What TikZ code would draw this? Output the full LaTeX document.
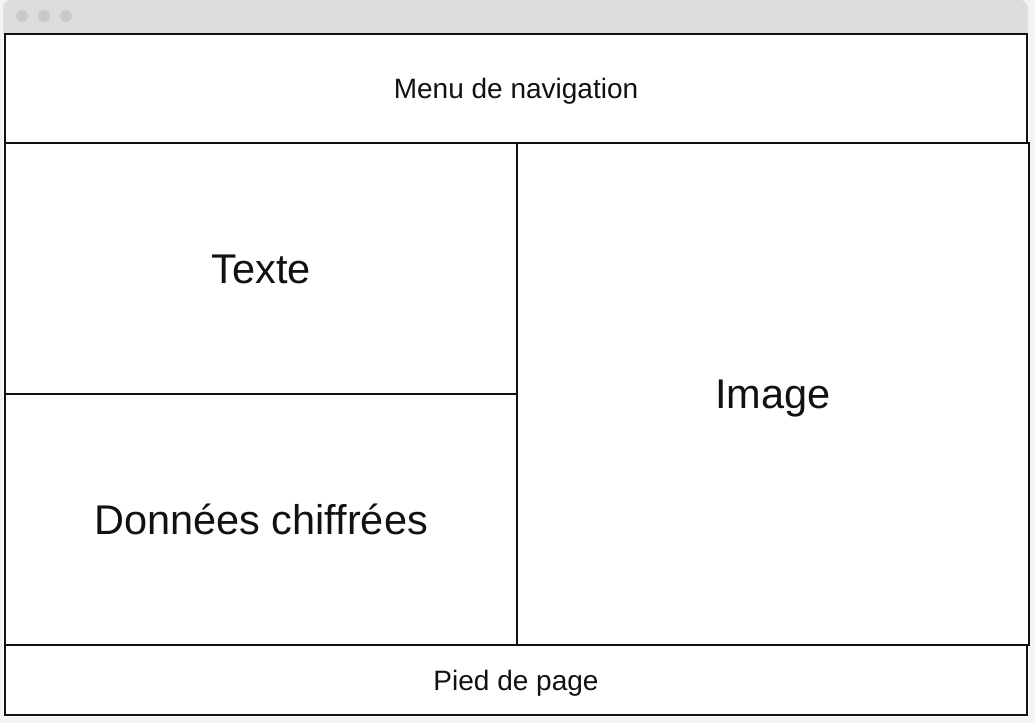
\documentclass[tikz,border=0pt]{standalone}
\usepackage{fontspec}
\setmainfont{Liberation Sans}
\definecolor{bgc}{HTML}{F3F3F3}
\definecolor{barc}{HTML}{DDDDDD}
\definecolor{dotc}{HTML}{C9C9C9}
\definecolor{inkc}{HTML}{111111}
\begin{document}
\begin{tikzpicture}[x=1pt,y=-1pt,
  panel/.style={draw=inkc,line width=2pt,fill=white,rectangle,inner sep=0pt,text=inkc,anchor=center,text depth=0pt},
  small/.style={font=\fontsize{28}{32}\selectfont,text height=20pt},
  big/.style={font=\fontsize{41.5}{48}\selectfont,text height=29.7pt},
  dot/.style={fill=dotc,draw=none}]
\useasboundingbox (0,0) rectangle (1035,723);
\fill[bgc] (0,0) rectangle (1035,723);
\fill[barc,rounded corners=8pt] (3,40) -- (3,0) -- (1028,0) -- (1028,40) -- cycle;
\fill[barc] (3,20) rectangle (1028,40);
\fill[white] (3,34) rectangle (1029,717);
\fill[dot] (22,16) circle (6);
\fill[dot] (44,16) circle (6);
\fill[dot] (66,16) circle (6);
\node[panel,small,minimum width=1022pt,minimum height=109pt] (nav) at (516,88.5) {Menu de navigation};
\node[panel,big,minimum width=512pt,minimum height=251pt] (texte) at (261,268.5) {Texte};
\node[panel,big,minimum width=512pt,minimum height=251pt] (donnees) at (261,519.5) {Données chiffrées};
\node[panel,big,minimum width=512pt,minimum height=502pt] (image) at (773,394) {Image};
\node[panel,small,minimum width=1022pt,minimum height=70pt] (footer) at (516,680) {Pied de page};
\end{tikzpicture}
\end{document}
